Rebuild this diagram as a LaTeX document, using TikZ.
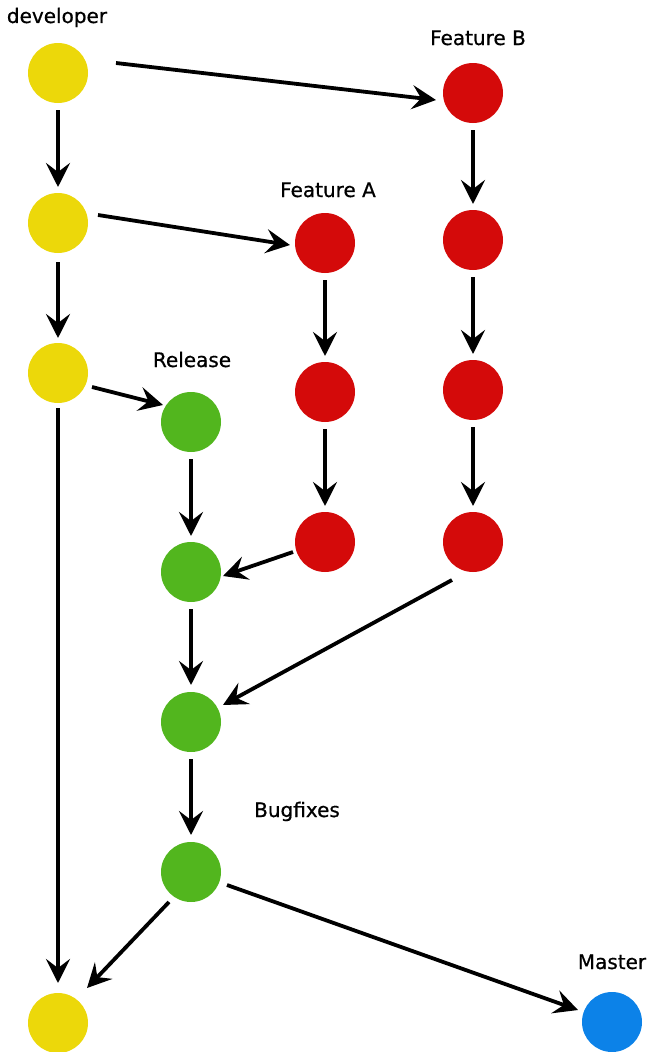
\documentclass[tikz,border=0pt]{standalone}
\usepackage{fontspec}
\setmainfont{DejaVu Sans}
\newfontfamily\lblfont{DejaVu Sans}[FakeBold=0.7]
\usetikzlibrary{arrows.meta,calc}
\definecolor{cyel}{RGB}{236,216,10}
\definecolor{cred}{RGB}{212,10,10}
\definecolor{cgrn}{RGB}{82,182,30}
\definecolor{cblu}{RGB}{12,130,232}
\tikzset{
  commit/.style={circle,minimum size=60pt,inner sep=0pt,draw=none},
  dev/.style={commit,fill=cyel},
  feat/.style={commit,fill=cred},
  rel/.style={commit,fill=cgrn},
  mst/.style={commit,fill=cblu},
  lbl/.style={anchor=base,font=\lblfont\fontsize{20}{23}\selectfont,inner sep=0pt},
  flow/.style={line width=3.8pt,-{Stealth[length=24pt,width=24pt,inset=9pt]}}
}
\begin{document}
\begin{tikzpicture}[x=1pt,y=-1pt]
\useasboundingbox (0,0) rectangle (661,1052);
% nodes
\node[dev] (y1) at (58,73) {};
\node[dev] (y2) at (58,223) {};
\node[dev] (y3) at (58,373) {};
\node[dev] (y4) at (58,1023) {};
\node[feat] (b1) at (473,93) {};
\node[feat] (b2) at (473,240) {};
\node[feat] (b3) at (473,390) {};
\node[feat] (b4) at (473,542) {};
\node[feat] (a1) at (325,243) {};
\node[feat] (a2) at (325,392) {};
\node[feat] (a3) at (325,542) {};
\node[rel] (g1) at (191,422) {};
\node[rel] (g2) at (191,572) {};
\node[rel] (g3) at (191,722) {};
\node[rel] (g4) at (191,872) {};
\node[mst] (m1) at (612,1022) {};
% labels
\node[lbl] (tdev) at (57,23) {developer};
\node[lbl] (tfb) at (478,45) {Feature B};
\node[lbl] (tfa) at (328,197) {Feature A};
\node[lbl] (trel) at (192,367) {Release};
\node[lbl] (tbug) at (297,817) {Bugfixes};
\node[lbl] (tmst) at (612,969) {Master};
% connectors
\draw[flow] ($(y1)+(58,-10)$) -- ($(b1)+(-37,7)$);
\draw[flow] ($(y1)+(0,37)$) -- ($(y2)+(0,-36)$);
\draw[flow] ($(y2)+(40,-8)$) -- ($(a1)+(-35,2)$);
\draw[flow] ($(y2)+(0,39)$) -- ($(y3)+(0,-35)$);
\draw[flow] ($(y3)+(34,14)$) -- ($(g1)+(-28,-17)$);
\draw[flow] ($(y3)+(0,35)$) -- ($(y4)+(0,-40)$);
\draw[flow] ($(b1)+(0,37)$) -- ($(b2)+(0,-36)$);
\draw[flow] ($(b2)+(0,37)$) -- ($(b3)+(0,-36)$);
\draw[flow] ($(b3)+(0,37)$) -- ($(b4)+(0,-36)$);
\draw[flow] ($(a1)+(0,37)$) -- ($(a2)+(0,-36)$);
\draw[flow] ($(a2)+(0,37)$) -- ($(a3)+(0,-36)$);
\draw[flow] ($(g1)+(0,37)$) -- ($(g2)+(0,-36)$);
\draw[flow] ($(a3)+(-32,10)$) -- ($(g2)+(32,4)$);
\draw[flow] ($(g2)+(0,37)$) -- ($(g3)+(0,-37)$);
\draw[flow] ($(b4)+(-21,38)$) -- ($(g3)+(32,-17)$);
\draw[flow] ($(g3)+(0,37)$) -- ($(g4)+(0,-37)$);
\draw[flow] ($(g4)+(-22,30)$) -- ($(y4)+(29,-35)$);
\draw[flow] ($(g4)+(36,13)$) -- ($(m1)+(-34,-12)$);
\end{tikzpicture}
\end{document}
